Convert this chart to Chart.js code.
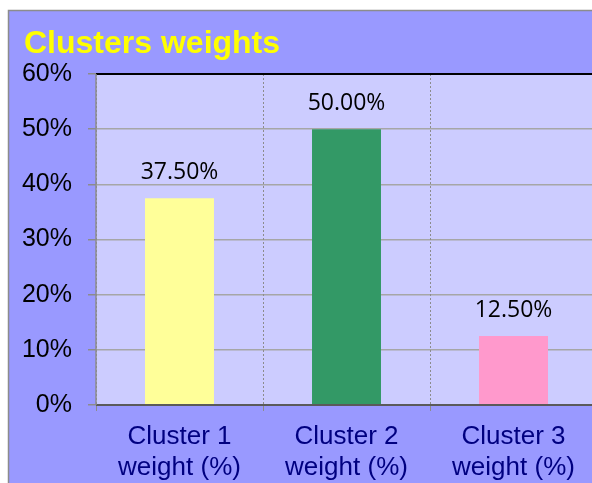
<!DOCTYPE html>
<html>
<head>
<meta charset="utf-8">
<script src="https://cdn.jsdelivr.net/npm/chart.js@4"></script>
<style>
html,body{margin:0;padding:0;background:#fff;overflow:hidden;}
#wrap{width:592px;height:483px;overflow:hidden;position:relative;}
canvas{display:block;}
</style>
</head>
<body>
<div id="wrap"><canvas id="c" width="605" height="483"></canvas></div>
<script>
const titleText = 'Clusters weights';
const categories = [['Cluster 1', 'weight (%)'], ['Cluster 2', 'weight (%)'], ['Cluster 3', 'weight (%)']];
const weights = [37.5, 50.0, 12.5];
const barColors = ['#FFFF99', '#339966', '#FF99CC'];
const yTicks = [0, 10, 20, 30, 40, 50, 60];

const framePlugin = {
  id: 'frame',
  beforeDraw(chart) {
    const ctx = chart.ctx, a = chart.chartArea;
    ctx.save();
    ctx.fillStyle = '#FFFFFF';
    ctx.fillRect(0, 0, chart.width, chart.height);
    ctx.fillStyle = '#9999FF';
    ctx.fillRect(8, 10, chart.width - 8, chart.height - 10);
    ctx.strokeStyle = '#8C8C8C';
    ctx.lineWidth = 1.5;
    ctx.beginPath();
    ctx.moveTo(8.5, chart.height);
    ctx.lineTo(8.5, 10.5);
    ctx.lineTo(chart.width, 10.5);
    ctx.stroke();
    ctx.fillStyle = '#CCCCFF';
    ctx.fillRect(a.left, a.top, a.right - a.left, a.bottom - a.top);
    ctx.font = 'bold 32px "Liberation Sans", Arial, sans-serif';
    ctx.fillStyle = '#FFFF00';
    ctx.textBaseline = 'alphabetic';
    ctx.textAlign = 'left';
    ctx.fillText(titleText, 24, 53);
    ctx.restore();
  },
  afterDraw(chart) {
    const ctx = chart.ctx, a = chart.chartArea;
    ctx.save();
    ctx.strokeStyle = '#000000';
    ctx.lineWidth = 2;
    ctx.beginPath();
    ctx.moveTo(a.left, a.top);
    ctx.lineTo(a.right, a.top);
    ctx.stroke();
    ctx.strokeStyle = '#5A5A5A';
    ctx.lineWidth = 2;
    ctx.beginPath();
    ctx.moveTo(a.left, a.bottom);
    ctx.lineTo(a.right, a.bottom);
    ctx.stroke();
    ctx.strokeStyle = '#8C8C8C';
    ctx.lineWidth = 1.5;
    ctx.beginPath();
    ctx.moveTo(a.left, a.top);
    ctx.lineTo(a.left, a.bottom);
    ctx.stroke();
    // data labels
    const meta = chart.getDatasetMeta(0);
    ctx.font = '23px "Open Sans", sans-serif';
    ctx.fillStyle = '#000000';
    ctx.textAlign = 'center';
    ctx.textBaseline = 'middle';
    meta.data.forEach((bar, i) => {
      ctx.fillText(weights[i].toFixed(2) + '%', bar.x, bar.y - 26);
    });
    ctx.restore();
  }
};

new Chart(document.getElementById('c'), {
  type: 'bar',
  data: {
    labels: categories,
    datasets: [{
      data: weights,
      backgroundColor: barColors,
      borderWidth: 0,
      barPercentage: 0.413,
      categoryPercentage: 1
    }]
  },
  options: {
    responsive: false,
    animation: false,
    devicePixelRatio: 1,
    layout: { padding: { top: 74, left: 0, right: 8, bottom: 0 } },
    plugins: { legend: { display: false }, title: { display: false }, tooltip: { enabled: false } },
    scales: {
      y: {
        min: 0, max: 60,
        afterBuildTicks(s) { s.ticks = yTicks.map(v => ({ value: v })); },
        afterFit(s) { s.width = 96; },
        ticks: {
          callback: v => v + '%',
          font: { family: '"Liberation Sans", Arial, sans-serif', size: 25 },
          color: '#000000',
          padding: 16
        },
        grid: { color: '#A6A6A6', lineWidth: 1.5, tickLength: 8, tickColor: '#8C8C8C', drawOnChartArea: true },
        border: { display: false }
      },
      x: {
        afterFit(s) { s.height = 78; },
        ticks: {
          font: { family: '"Liberation Sans", Arial, sans-serif', size: 26, lineHeight: 1.17 },
          color: '#000080',
          padding: 11,
          maxRotation: 0,
          autoSkip: false
        },
        grid: { offset: true, color: '#8C8C8C', lineWidth: 1, tickLength: 6, tickColor: '#8C8C8C' },
        border: { display: false, dash: [2, 2] }
      }
    }
  },
  plugins: [framePlugin]
});
</script>
</body>
</html>
